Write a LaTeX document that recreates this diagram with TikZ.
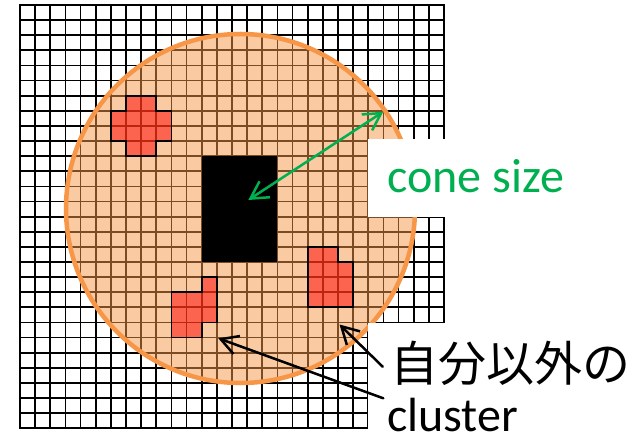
\documentclass[tikz,border=0pt]{standalone}
\usepackage{fontspec}
\setmainfont{Carlito}
\newfontfamily\jpfont{Noto Sans CJK JP}
\usetikzlibrary{arrows.meta}
\definecolor{coneorange}{HTML}{F79646}
\definecolor{conegreen}{HTML}{00B050}
\begin{document}
\begin{tikzpicture}[x=1pt,y=-1pt,
  gridline/.style={line width=1.8pt, black, line cap=rect},
  clusterblob/.style={fill=red, fill opacity=0.5, draw=black, line width=1.8pt, line join=miter},
  openhead/.style={line width=2.5pt, line cap=round, arrows={-Straight Barb[length=17pt,width=19pt]}},
  dblhead/.style={line width=2.5pt, arrows={Straight Barb[length=17pt,width=19pt]-Straight Barb[length=17pt,width=19pt]}},
  bigtext/.style={inner sep=0pt, anchor=base west, font=\fontsize{48}{57}\selectfont}]
\useasboundingbox (0,0) rectangle (631,438);
\fill[white] (0,0) rectangle (631,438);
% grid
\begin{scope}[shift={(20,5)}, x=15.143pt, y=-15.118pt]
  \foreach \i in {0,...,28} {
    \draw[gridline] (\i,0) -- (\i,28);
    \draw[gridline] (0,\i) -- (28,\i);
  }
\end{scope}
% cone circle
\fill[coneorange, opacity=0.5] (240.5,208.5) circle[radius=174.5pt];
\draw[coneorange, line width=4.5pt] (240.5,208.5) circle[radius=174.5pt];
% clusters and core
\begin{scope}[shift={(20,5)}, x=15.143pt, y=-15.118pt]
  \draw[clusterblob] (7,6) -- (9,6) -- (9,7) -- (10,7) -- (10,9) -- (9,9) -- (9,10) -- (7,10) -- (7,9) -- (6,9) -- (6,7) -- (7,7) -- cycle;
  \draw[clusterblob] (12,18) -- (13,18) -- (13,21) -- (12,21) -- (12,22) -- (10,22) -- (10,19) -- (12,19) -- cycle;
  \draw[clusterblob] (19,16) -- (21,16) -- (21,17) -- (22,17) -- (22,20) -- (19,20) -- cycle;
  \fill[black] (12,10) rectangle (17,17);
\end{scope}
% label backgrounds
\fill[white] (368,139) rectangle (631,217);
\fill[white] (368,322.7) rectangle (631,438);
% labels
\node[bigtext, text=conegreen] (conelabel) at (387,192.7) {cone size};
\node[bigtext] (otherlabel) at (390,381.5) {\jpfont 自分以外の};
\node[bigtext] (clusterlabel) at (387,431) {cluster};
% connector ends
\coordinate (coreend) at (248.3,200);
\coordinate (rimend) at (383.3,111.7);
\coordinate (tailA) at (383.3,398.3);
\coordinate (tipA) at (218.3,338.3);
\coordinate (tailB) at (382.7,366.7);
\coordinate (tipB) at (339.5,324.5);
\draw[dblhead, conegreen] (coreend) -- (rimend);
\draw[openhead, black] (tailA) -- (tipA);
\draw[openhead, black] (tailB) -- (tipB);
\end{tikzpicture}
\end{document}
